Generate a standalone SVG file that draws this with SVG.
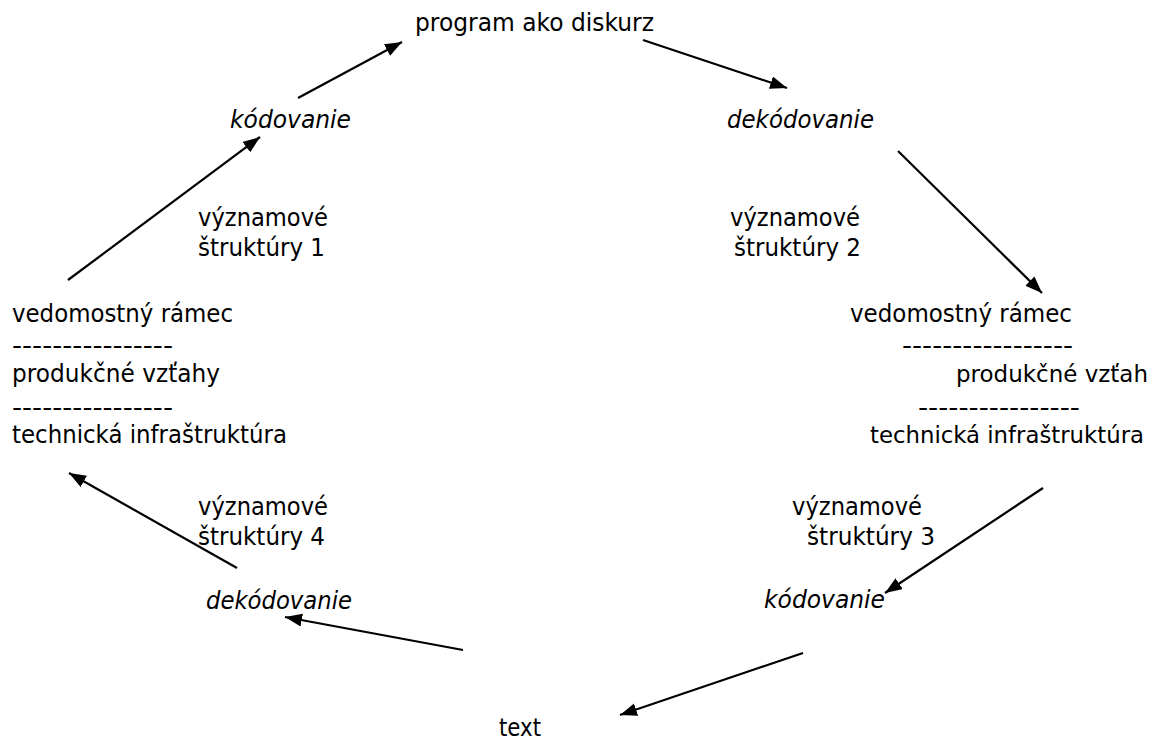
<svg xmlns="http://www.w3.org/2000/svg" width="1154" height="744" viewBox="0 0 1154 744">
<defs>
<style>
text{font-family:"DejaVu Sans","Liberation Sans",sans-serif;font-size:25px;fill:#000}
.i{font-style:italic}
.s{font-size:23px}
.c line{stroke:#000;stroke-width:2.2;marker-end:url(#ah)}
</style>
<marker id="ah" markerUnits="userSpaceOnUse" markerWidth="18" markerHeight="14" refX="17" refY="6.5" orient="auto">
<path d="M0,0 L17,6.5 L0,13 z" fill="#000"/>
</marker>
</defs>
<rect width="1154" height="744" fill="#fff"/>
<g id="n-program"><text x="415" y="31" textLength="239" lengthAdjust="spacingAndGlyphs">program ako diskurz</text></g>
<g id="n-kodovanie1"><text class="i" x="230" y="128" textLength="121" lengthAdjust="spacingAndGlyphs">kódovanie</text></g>
<g id="n-dekodovanie1"><text class="i" x="727" y="128" textLength="147" lengthAdjust="spacingAndGlyphs">dekódovanie</text></g>
<g id="n-vs1">
<text x="198" y="226" textLength="130" lengthAdjust="spacingAndGlyphs">významové</text>
<text x="198" y="256" textLength="127" lengthAdjust="spacingAndGlyphs">štruktúry 1</text>
</g>
<g id="n-vs2">
<text x="730" y="226" textLength="130" lengthAdjust="spacingAndGlyphs">významové</text>
<text x="734" y="256" textLength="127" lengthAdjust="spacingAndGlyphs">štruktúry 2</text>
</g>
<g id="n-left">
<text x="12" y="322" textLength="221" lengthAdjust="spacingAndGlyphs">vedomostný rámec</text>
<text x="12" y="354" textLength="161" lengthAdjust="spacingAndGlyphs">----------------</text>
<text x="12" y="382" textLength="208" lengthAdjust="spacingAndGlyphs">produkčné vzťahy</text>
<text x="12" y="416" textLength="161" lengthAdjust="spacingAndGlyphs">----------------</text>
<text x="12" y="443" textLength="275" lengthAdjust="spacingAndGlyphs">technická infraštruktúra</text>
</g>
<g id="n-right">
<text x="850" y="322" textLength="222" lengthAdjust="spacingAndGlyphs">vedomostný rámec</text>
<text x="902" y="354" textLength="171" lengthAdjust="spacingAndGlyphs">-----------------</text>
<text class="s" x="956" y="382" textLength="192" lengthAdjust="spacingAndGlyphs">produkčné vzťah</text>
<text x="918" y="416" textLength="162" lengthAdjust="spacingAndGlyphs">----------------</text>
<text class="s" x="870" y="443" textLength="274" lengthAdjust="spacingAndGlyphs">technická infraštruktúra</text>
</g>
<g id="n-vs4">
<text x="198" y="515" textLength="130" lengthAdjust="spacingAndGlyphs">významové</text>
<text x="198" y="545" textLength="127" lengthAdjust="spacingAndGlyphs">štruktúry 4</text>
</g>
<g id="n-vs3">
<text x="792" y="515" textLength="130" lengthAdjust="spacingAndGlyphs">významové</text>
<text x="807" y="545" textLength="128" lengthAdjust="spacingAndGlyphs">štruktúry 3</text>
</g>
<g id="n-dekodovanie2"><text class="i" x="206" y="609" textLength="146" lengthAdjust="spacingAndGlyphs">dekódovanie</text></g>
<g id="n-kodovanie2"><text class="i" x="764" y="608" textLength="121" lengthAdjust="spacingAndGlyphs">kódovanie</text></g>
<g id="n-text"><text x="499" y="736" textLength="42" lengthAdjust="spacingAndGlyphs">text</text></g>
<g id="connectors" class="c">
<line x1="298" y1="98" x2="402" y2="42"/>
<line x1="643" y1="40" x2="787" y2="88"/>
<line x1="898" y1="151" x2="1042" y2="293"/>
<line x1="68" y1="280" x2="260" y2="137"/>
<line x1="1043" y1="488" x2="885" y2="593"/>
<line x1="803" y1="653" x2="620" y2="715"/>
<line x1="463" y1="650" x2="285" y2="617"/>
<line x1="237" y1="568" x2="69" y2="473"/>
</g>
</svg>
